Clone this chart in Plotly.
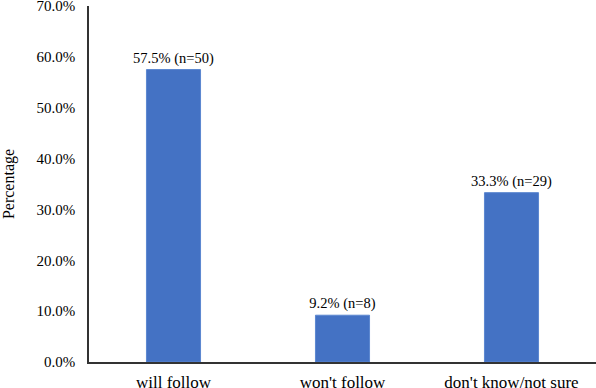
import plotly.graph_objects as go

categories = ["will follow", "won't follow", "don't know/not sure"]
percentages = [57.5, 9.2, 33.3]
counts = [50, 8, 29]
y_ticks = [0, 10, 20, 30, 40, 50, 60, 70]
y_tick_labels = [f"{v:.1f}%" for v in y_ticks]

labels = [f"{p:.1f}% (n={n})" for p, n in zip(percentages, counts)]

fig = go.Figure(go.Bar(
    x=categories, y=percentages, text=labels, textposition="outside",
    cliponaxis=False, constraintext="none",
    marker=dict(color="#4472C4", line=dict(color="#5B87D0", width=1)),
    textfont=dict(family="Liberation Serif", size=14.5, color="black"),
))
fig.update_layout(
    width=596, height=388,
    margin=dict(l=89, r=0, t=6, b=26),
    paper_bgcolor="white", plot_bgcolor="white",
    bargap=0.68, showlegend=False,
    font=dict(family="Liberation Serif", size=15, color="black"),
)
fig.update_yaxes(range=[0, 70], tickvals=y_ticks, ticktext=y_tick_labels,
                 showgrid=False, showline=True, linecolor="#333", linewidth=1.5,
                 ticks="", zeroline=False, automargin=False,
                 ticklabelstandoff=9, ticklabeloverflow="allow",
                 title=dict(text="Percentage", standoff=20, font=dict(size=16)),
                 tickfont=dict(size=15))
fig.update_xaxes(showline=True, linecolor="#333", linewidth=1.5, ticks="",
                 automargin=False, ticklabelstandoff=4, ticklabeloverflow="allow",
                 tickfont=dict(size=17))
fig.write_html("out.html", config={"displayModeBar": False},
               post_script="document.body.style.margin='0';document.body.style.overflow='hidden';")
